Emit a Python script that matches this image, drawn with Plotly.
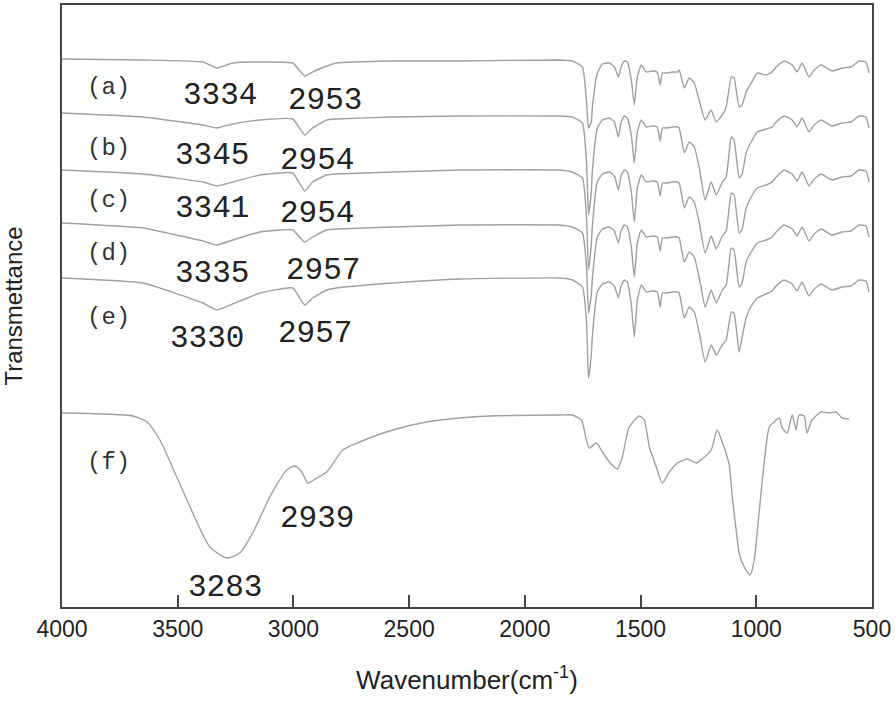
import plotly.graph_objects as go

# ---------------- data ----------------
WN_AE = [4000, 3650, 3391, 3331, 3262, 3145, 3003, 2951, 2917, 2856, 2813, 2571, 2282, 1851, 1795,
         1751, 1734, 1725, 1713, 1708, 1687, 1665, 1635, 1613, 1596, 1584, 1570, 1557, 1540, 1527,
         1514, 1497, 1475, 1449, 1428, 1415, 1406, 1385, 1363, 1341, 1333, 1311, 1290, 1268, 1247,
         1221, 1195, 1173, 1147, 1130, 1108, 1096, 1074, 1061, 1044, 1022, 996, 957, 932, 914,
         880, 845, 824, 802, 772, 750, 720, 673, 629, 591, 556, 526, 513]

T_A = [548, 547, 545, 539, 544, 545, 544, 531, 535, 541, 544, 546, 546, 547, 546, 540, 507, 479, 485, 500,
       534, 543, 544, 540, 530, 540, 546, 545, 527, 502, 530, 542, 535, 536, 535, 522, 534, 534, 535, 535,
       537, 519, 529, 524, 507, 487, 497, 485, 492, 500, 530, 529, 500, 502, 515, 524, 534, 532, 535, 540,
       546, 542, 535, 544, 530, 537, 542, 536, 539, 540, 546, 545, 534]
T_B = [494, 490, 482, 479, 483, 487, 488, 472, 479, 487, 488, 490, 491, 491, 490, 484, 447, 392, 415, 437,
       479, 487, 489, 485, 470, 485, 491, 489, 472, 444, 475, 487, 480, 481, 480, 466, 479, 479, 480, 480,
       479, 454, 465, 460, 440, 407, 425, 412, 425, 430, 470, 467, 429, 433, 454, 465, 475, 478, 480, 485,
       491, 487, 480, 489, 475, 482, 487, 481, 484, 485, 491, 490, 479]
T_C = [437, 433, 425, 421, 425, 432, 434, 416, 425, 432, 433, 435, 437, 437, 435, 429, 392, 337, 362, 382,
       425, 433, 435, 431, 417, 431, 437, 435, 415, 385, 419, 432, 425, 426, 425, 411, 424, 424, 425, 425,
       424, 399, 410, 405, 385, 354, 371, 358, 371, 376, 414, 412, 374, 378, 399, 410, 419, 422, 425, 430,
       437, 433, 426, 435, 421, 428, 433, 427, 430, 431, 437, 436, 425]
T_D = [384, 379, 366, 362, 367, 375, 377, 365, 370, 377, 378, 380, 382, 382, 380, 374, 342, 294, 312, 329,
       370, 378, 380, 376, 364, 376, 382, 380, 360, 330, 364, 377, 370, 371, 370, 356, 369, 369, 370, 370,
       369, 345, 355, 350, 330, 300, 317, 304, 317, 322, 359, 357, 320, 324, 345, 355, 364, 367, 370, 375,
       382, 378, 371, 380, 366, 373, 378, 372, 375, 376, 382, 381, 370]
T_E = [329, 324, 304, 297, 303, 314, 319, 302, 309, 317, 319, 324, 328, 329, 327, 320, 287, 229, 252, 272,
       315, 323, 325, 321, 309, 321, 327, 325, 302, 270, 307, 322, 315, 316, 315, 300, 314, 314, 315, 315,
       314, 289, 300, 295, 275, 245, 262, 252, 262, 267, 295, 294, 255, 270, 289, 301, 309, 313, 316, 321,
       327, 323, 316, 325, 311, 318, 323, 317, 320, 321, 327, 326, 315]

WN_F = [4000, 3694, 3633, 3577, 3504, 3435, 3361, 3288, 3232, 3176, 3102, 3029, 2994, 2964, 2938, 2900,
        2856, 2787, 2714, 2571, 2425, 2282, 2150, 1851, 1795, 1756, 1734, 1721, 1691, 1665, 1635, 1600,
        1579, 1549, 1505, 1484, 1462, 1432, 1406, 1376, 1341, 1298, 1259, 1234, 1195, 1169, 1147, 1117,
        1104, 1087, 1074, 1052, 1026, 1009, 988, 966, 944, 923, 901, 888, 867, 845, 828, 815, 793, 781,
        759, 720, 685, 655, 629, 599]
T_F = [194, 191, 185, 167, 130, 94, 60, 49, 54, 74, 110, 137, 141, 135, 124, 129, 135, 157, 165, 177,
       185, 189, 191, 192, 192, 187, 167, 159, 164, 155, 145, 138, 150, 180, 191, 187, 160, 140, 124, 135,
       144, 148, 144, 148, 157, 177, 165, 142, 110, 77, 54, 40, 32, 47, 94, 144, 180, 185, 189, 179,
       174, 192, 177, 192, 191, 174, 187, 195, 194, 195, 189, 188]

CURVE_LABELS = ["(a)", "(b)", "(c)", "(d)", "(e)", "(f)"]
CURVE_LABEL_Y = [520, 459, 407, 354, 290, 145]
CURVE_LABEL_X = 3801

PEAK_TEXT = ["3334", "2953", "3345", "2954", "3341", "2954", "3335", "2957", "3330", "2957", "2939", "3283"]
PEAK_X = [3318, 2865, 3353, 2900, 3353, 2900, 3353, 2874, 3374, 2908, 2900, 3297]
PEAK_Y = [512, 507, 452, 447, 399, 394, 334, 337, 269, 274, 89, 20]

X_TICKS = [4000, 3500, 3000, 2500, 2000, 1500, 1000, 500]

for arr in (T_A, T_B, T_C, T_D, T_E):
    assert len(arr) == len(WN_AE)
assert len(WN_F) == len(T_F)

# ---------------- figure ----------------
LINE_COLOR = "#a0a0a0"
fig = go.Figure()
for name, ys in zip(CURVE_LABELS[:5], (T_A, T_B, T_C, T_D, T_E)):
    fig.add_trace(go.Scatter(x=WN_AE, y=ys, mode="lines", name=name,
                             line=dict(color=LINE_COLOR, width=1.4, shape="spline", smoothing=0.4)))
fig.add_trace(go.Scatter(x=WN_F, y=T_F, mode="lines", name=CURVE_LABELS[5],
                         line=dict(color=LINE_COLOR, width=1.4, shape="spline", smoothing=0.6)))

for txt, yv in zip(CURVE_LABELS, CURVE_LABEL_Y):
    fig.add_annotation(x=CURVE_LABEL_X, y=yv, text=txt, showarrow=False,
                       font=dict(family="Liberation Mono, Courier New, monospace", size=24, color="#333"))
for txt, xv, yv in zip(PEAK_TEXT, PEAK_X, PEAK_Y):
    fig.add_annotation(x=xv, y=yv, text=txt, showarrow=False,
                       font=dict(family="Liberation Mono, Courier New, monospace", size=31, color="#222"))

fig.update_layout(
    width=896, height=703,
    margin=dict(l=62, r=24, t=5, b=96, autoexpand=False),
    paper_bgcolor="white", plot_bgcolor="white",
    showlegend=False,
    font=dict(family="Liberation Sans, Arial, sans-serif", color="#222"),
)
fig.update_xaxes(
    range=[4000, 500], tickvals=X_TICKS, ticktext=[str(t) for t in X_TICKS],
    ticks="inside", ticklen=12, tickwidth=2, tickcolor="#444",
    showline=True, linecolor="#444", linewidth=2, mirror=True,
    showgrid=False, zeroline=False, automargin=False,
    tickfont=dict(family="Liberation Sans, Arial, sans-serif", size=23, color="#222"),
    title=dict(text="Wavenumber(cm<sup>-1</sup>)", standoff=30,
               font=dict(family="Liberation Sans, Arial, sans-serif", size=26, color="#222")),
)
fig.update_yaxes(
    range=[0, 602], showticklabels=False, ticks="",
    showline=True, linecolor="#444", linewidth=2, mirror=True,
    showgrid=False, zeroline=False, automargin=False,
    title=dict(text="Transmettance", standoff=44,
               font=dict(family="Liberation Sans, Arial, sans-serif", size=24, color="#222")),
)

# remove the browser's default 8px body margin so the figure sits at the window's corner
fig.write_html("out.html", config={"displayModeBar": False},
               post_script="document.body.style.margin='0';document.body.style.overflow='hidden';")
